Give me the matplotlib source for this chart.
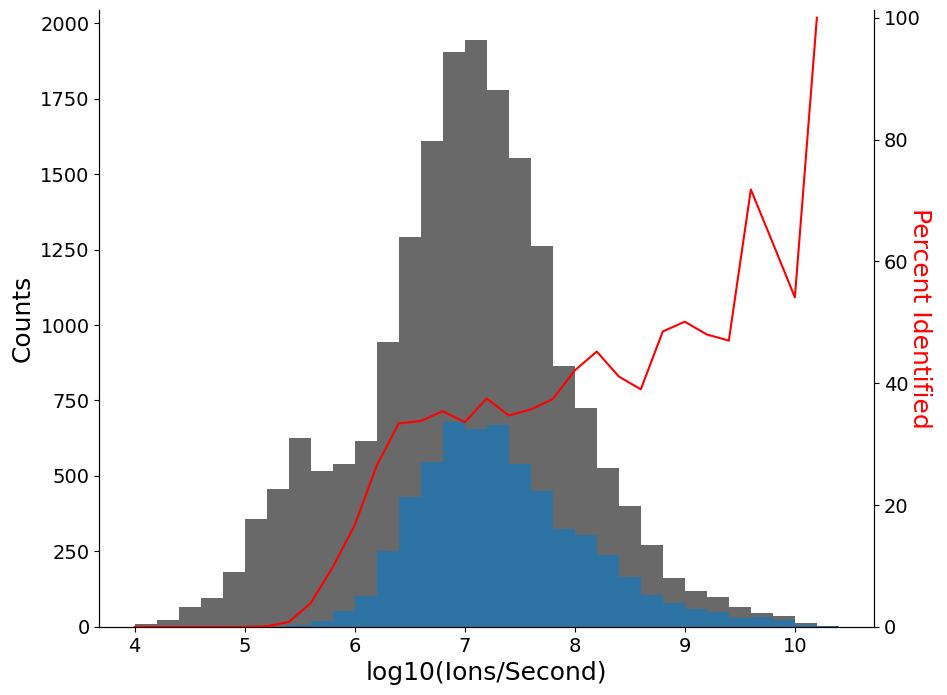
import matplotlib.pyplot as plt
import numpy as np

# histogram bins (left edges), width 0.2
bin_left = np.round(np.arange(4.0, 10.3, 0.2), 1)
bin_width = 0.2

# all precursors per bin
total_counts = [10, 23, 66, 96, 182, 358, 457, 627, 517, 540,
                615, 945, 1290, 1610, 1905, 1945, 1780, 1555, 1262, 865,
                725, 527, 400, 271, 162, 119, 99, 66, 46, 36,
                13, 3]

# identified precursors per bin
ident_counts = [0, 0, 0, 0, 0, 0, 0, 5, 20, 53,
                103, 250, 430, 545, 678, 655, 668, 540, 450, 325,
                305, 238, 166, 106, 79, 60, 48, 31, 33, 23,
                7, 3]

# percent identified per bin
percent_ident = [0, 0, 0, 0, 0, 0, 0.1, 0.8, 3.9, 9.8,
                 16.7, 26.5, 33.4, 33.8, 35.4, 33.6, 37.5, 34.7, 35.7, 37.4,
                 42.1, 45.2, 41.1, 39.0, 48.5, 50.1, 48.0, 47.0, 71.8, 63.0,
                 54.1, 100.0]

fig, ax = plt.subplots(figsize=(9.47, 6.95), dpi=100)
fig.subplots_adjust(left=0.105, right=0.923, top=0.985, bottom=0.098)

ax.bar(bin_left, total_counts, width=bin_width, align='edge', color='dimgray')
ax.bar(bin_left, ident_counts, width=bin_width, align='edge', color='tab:blue', alpha=0.8)

ax.set_xlabel('log10(Ions/Second)', fontsize=18)
ax.set_ylabel('Counts', fontsize=18)
ax.tick_params(labelsize=14)
ax.spines['top'].set_visible(False)

ax2 = ax.twinx()
ax2.plot(bin_left, percent_ident, color='red', lw=1.5)
ax2.set_ylim(0, 101.2)
ax2.set_ylabel('Percent Identified', fontsize=18, color='red', rotation=270, labelpad=8)
ax2.tick_params(labelsize=14)
ax2.spines['top'].set_visible(False)

plt.savefig('out.png')
